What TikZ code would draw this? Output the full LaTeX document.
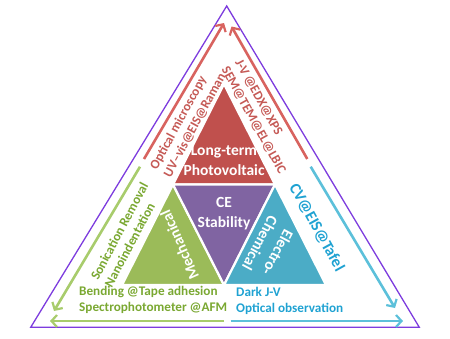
\documentclass[tikz,border=0pt]{standalone}
\usepackage{fontspec}
\setmainfont{Carlito}
\usetikzlibrary{arrows.meta}
\definecolor{tri}{RGB}{125,60,222}
\definecolor{cred}{HTML}{C0504D}
\definecolor{cgreen}{HTML}{9BBB59}
\definecolor{cpurple}{HTML}{8064A2}
\definecolor{cblue}{HTML}{4BACC6}
\definecolor{tred}{HTML}{C55A56}
\definecolor{tgreen}{HTML}{7AA832}
\definecolor{tblue}{HTML}{1FA2D2}
\definecolor{ared}{HTML}{D8635F}
\definecolor{agreen}{HTML}{A8CC6C}
\definecolor{ablue}{HTML}{5CC0DA}
\begin{document}
\begin{tikzpicture}[x=1pt,y=-1pt,
  piece/.style={fill=#1, draw=white, line width=2.2pt, line join=miter},
  intext/.style={text=white, font=\bfseries\fontsize{15.5}{20}\selectfont, align=center, inner sep=0pt},
  side/.style={text=#1, font=\bfseries\fontsize{13.2}{15.5}\selectfont, inner sep=0pt, align=left},
  arr/.style={draw=#1, line width=2.6pt, -{Straight Barb[length=5.5pt,width=12pt,line width=2.2pt]}}
]
\useasboundingbox (0,0) rectangle (450,338);
% outer triangle
\coordinate (OA) at (226.7,6);
\coordinate (OL) at (30.7,327.3);
\coordinate (OR) at (419.3,327.3);
\draw[tri, line width=1.3pt, line join=miter] (OA) -- (OL) -- (OR) -- cycle;
% inner triangles
\coordinate (T) at (224,84);
\coordinate (ML) at (173,184.5);
\coordinate (MR) at (275,184.5);
\coordinate (BL) at (122,285);
\coordinate (BM) at (224,285);
\coordinate (BR) at (326,285);
\draw[piece=cred] (T) -- (ML) -- (MR) -- cycle;
\draw[piece=cgreen] (ML) -- (BL) -- (BM) -- cycle;
\draw[piece=cpurple] (ML) -- (MR) -- (BM) -- cycle;
\draw[piece=cblue] (MR) -- (BM) -- (BR) -- cycle;
\node[intext] (pv) at (224,161) {Long-term\\Photovoltaic};
\node[intext] (ce) at (224,214) {CE\\Stability};
\node[intext, rotate=114] (mech) at (179.5,245) {Mechanical};
\node[intext, rotate=-118] (elec) at (269,248) {Electro-\\Chemical};
% arrows
\coordinate (r1s) at (144,159);
\coordinate (r1e) at (224,23);
\coordinate (r2s) at (307.3,159);
\coordinate (r2e) at (231.5,26.5);
\coordinate (g1s) at (140,166.7);
\coordinate (g1e) at (54,311);
\coordinate (g2s) at (224,321);
\coordinate (g2e) at (50,321);
\coordinate (b1s) at (310.7,166.7);
\coordinate (b1e) at (395,308);
\coordinate (b2s) at (230.7,321);
\coordinate (b2e) at (403,321);
\draw[arr=ared] (r1s) -- (r1e);
\draw[arr=ared] (r2s) -- (r2e);
\draw[arr=agreen] (g1s) -- (g1e);
\draw[arr=agreen] (g2s) -- (g2e);
\draw[arr=ablue] (b1s) -- (b1e);
\draw[arr=ablue] (b2s) -- (b2e);
% side texts
\node[side=tred, rotate=61.5] (om) at (188,121.5) {Optical microscopy\\UV--vis@EIS@Raman};
\node[side=tred, rotate=-61] (jv) at (260.2,116.7) {J-V @EDX@XPS\\SEM@TEM@EL@LBIC};
\node[side=tgreen, rotate=62] (son) at (126.2,234.8) {Sonication Removal\\Nanoindentation};
\node[side=tblue, font=\bfseries\fontsize{16}{19}\selectfont, rotate=-61] (cv) at (316.7,227.5) {CV@EIS@Tafel};
\node[side=tgreen, anchor=west] (bend) at (79,300) {Bending @Tape adhesion\\Spectrophotometer @AFM};
\node[side=tblue, anchor=west] (dark) at (236,301) {Dark J-V\\Optical observation};
\end{tikzpicture}
\end{document}
